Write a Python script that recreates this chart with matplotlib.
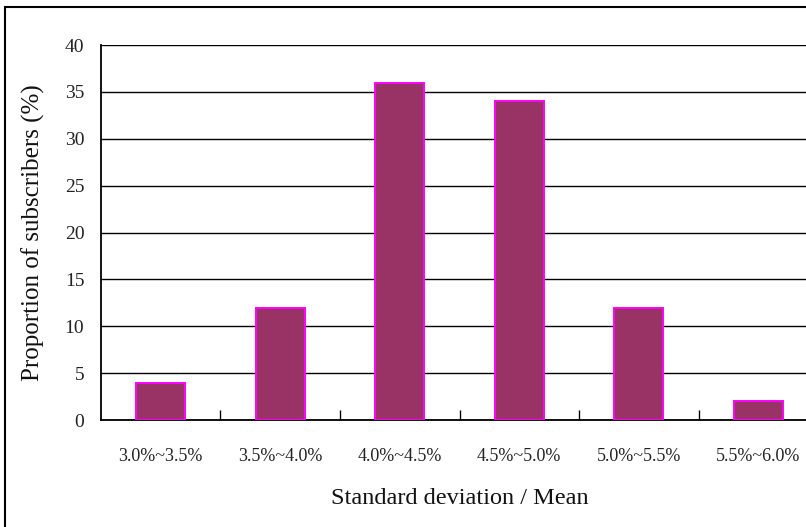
import numpy as np
import matplotlib
matplotlib.use('Agg')
import matplotlib.pyplot as plt
from matplotlib.patches import Rectangle

plt.rcParams['font.family'] = ['Liberation Serif', 'DejaVu Serif']

categories = ['3.0%~3.5%', '3.5%~4.0%', '4.0%~4.5%',
              '4.5%~5.0%', '5.0%~5.5%', '5.5%~6.0%']
proportion = [4, 12, 36, 34, 12, 2]
y_ticks = [0, 5, 10, 15, 20, 25, 30, 35, 40]

BAR = '#993366'
EDGE = '#ff00ff'

fig = plt.figure(figsize=(8.06, 5.27), dpi=100)
# plot area runs off the right edge of the page, as in the original layout
ax = fig.add_axes([0.1253, 0.203, 0.8896, 0.7116])

x = np.arange(len(categories))
ax.bar(x, proportion, width=0.41, color=BAR, edgecolor=EDGE,
       linewidth=1.4, zorder=3)

ax.set_xlim(-0.5, len(categories) - 0.5)
ax.set_ylim(0, 40)
ax.set_yticks(y_ticks)
ax.yaxis.grid(True, color='black', lw=1.0, zorder=0)
ax.tick_params(axis='y', length=0, pad=12, labelsize=14,
               labelcolor='#222222')

# category labels centred under bars, short inward ticks at the boundaries
ax.set_xticks(x)
ax.set_xticklabels(categories)
ax.tick_params(axis='x', which='major', length=0, pad=20, labelsize=13,
               labelcolor='#222222')
ax.set_xticks(x[:-1] + 0.5, minor=True)
ax.tick_params(axis='x', which='minor', direction='in', length=7,
               width=1.0, color='black')

for sp in ('top', 'right'):
    ax.spines[sp].set_visible(False)
for sp in ('left', 'bottom'):
    ax.spines[sp].set_linewidth(1.3)
    ax.spines[sp].set_color('black')

ax.set_ylabel('Proportion of subscribers (%)', fontsize=18, labelpad=14,
              color='#111111')
ax.set_xlabel('Standard deviation / Mean', fontsize=17.5, labelpad=17,
              color='#111111')

# page frame around the chart
fig.patches.append(Rectangle((5 / 806, -0.1), 1.2, 1.1 - 7 / 527,
                             transform=fig.transFigure, fill=False,
                             edgecolor='black', lw=1.5))

fig.savefig('out.png', dpi=100)
